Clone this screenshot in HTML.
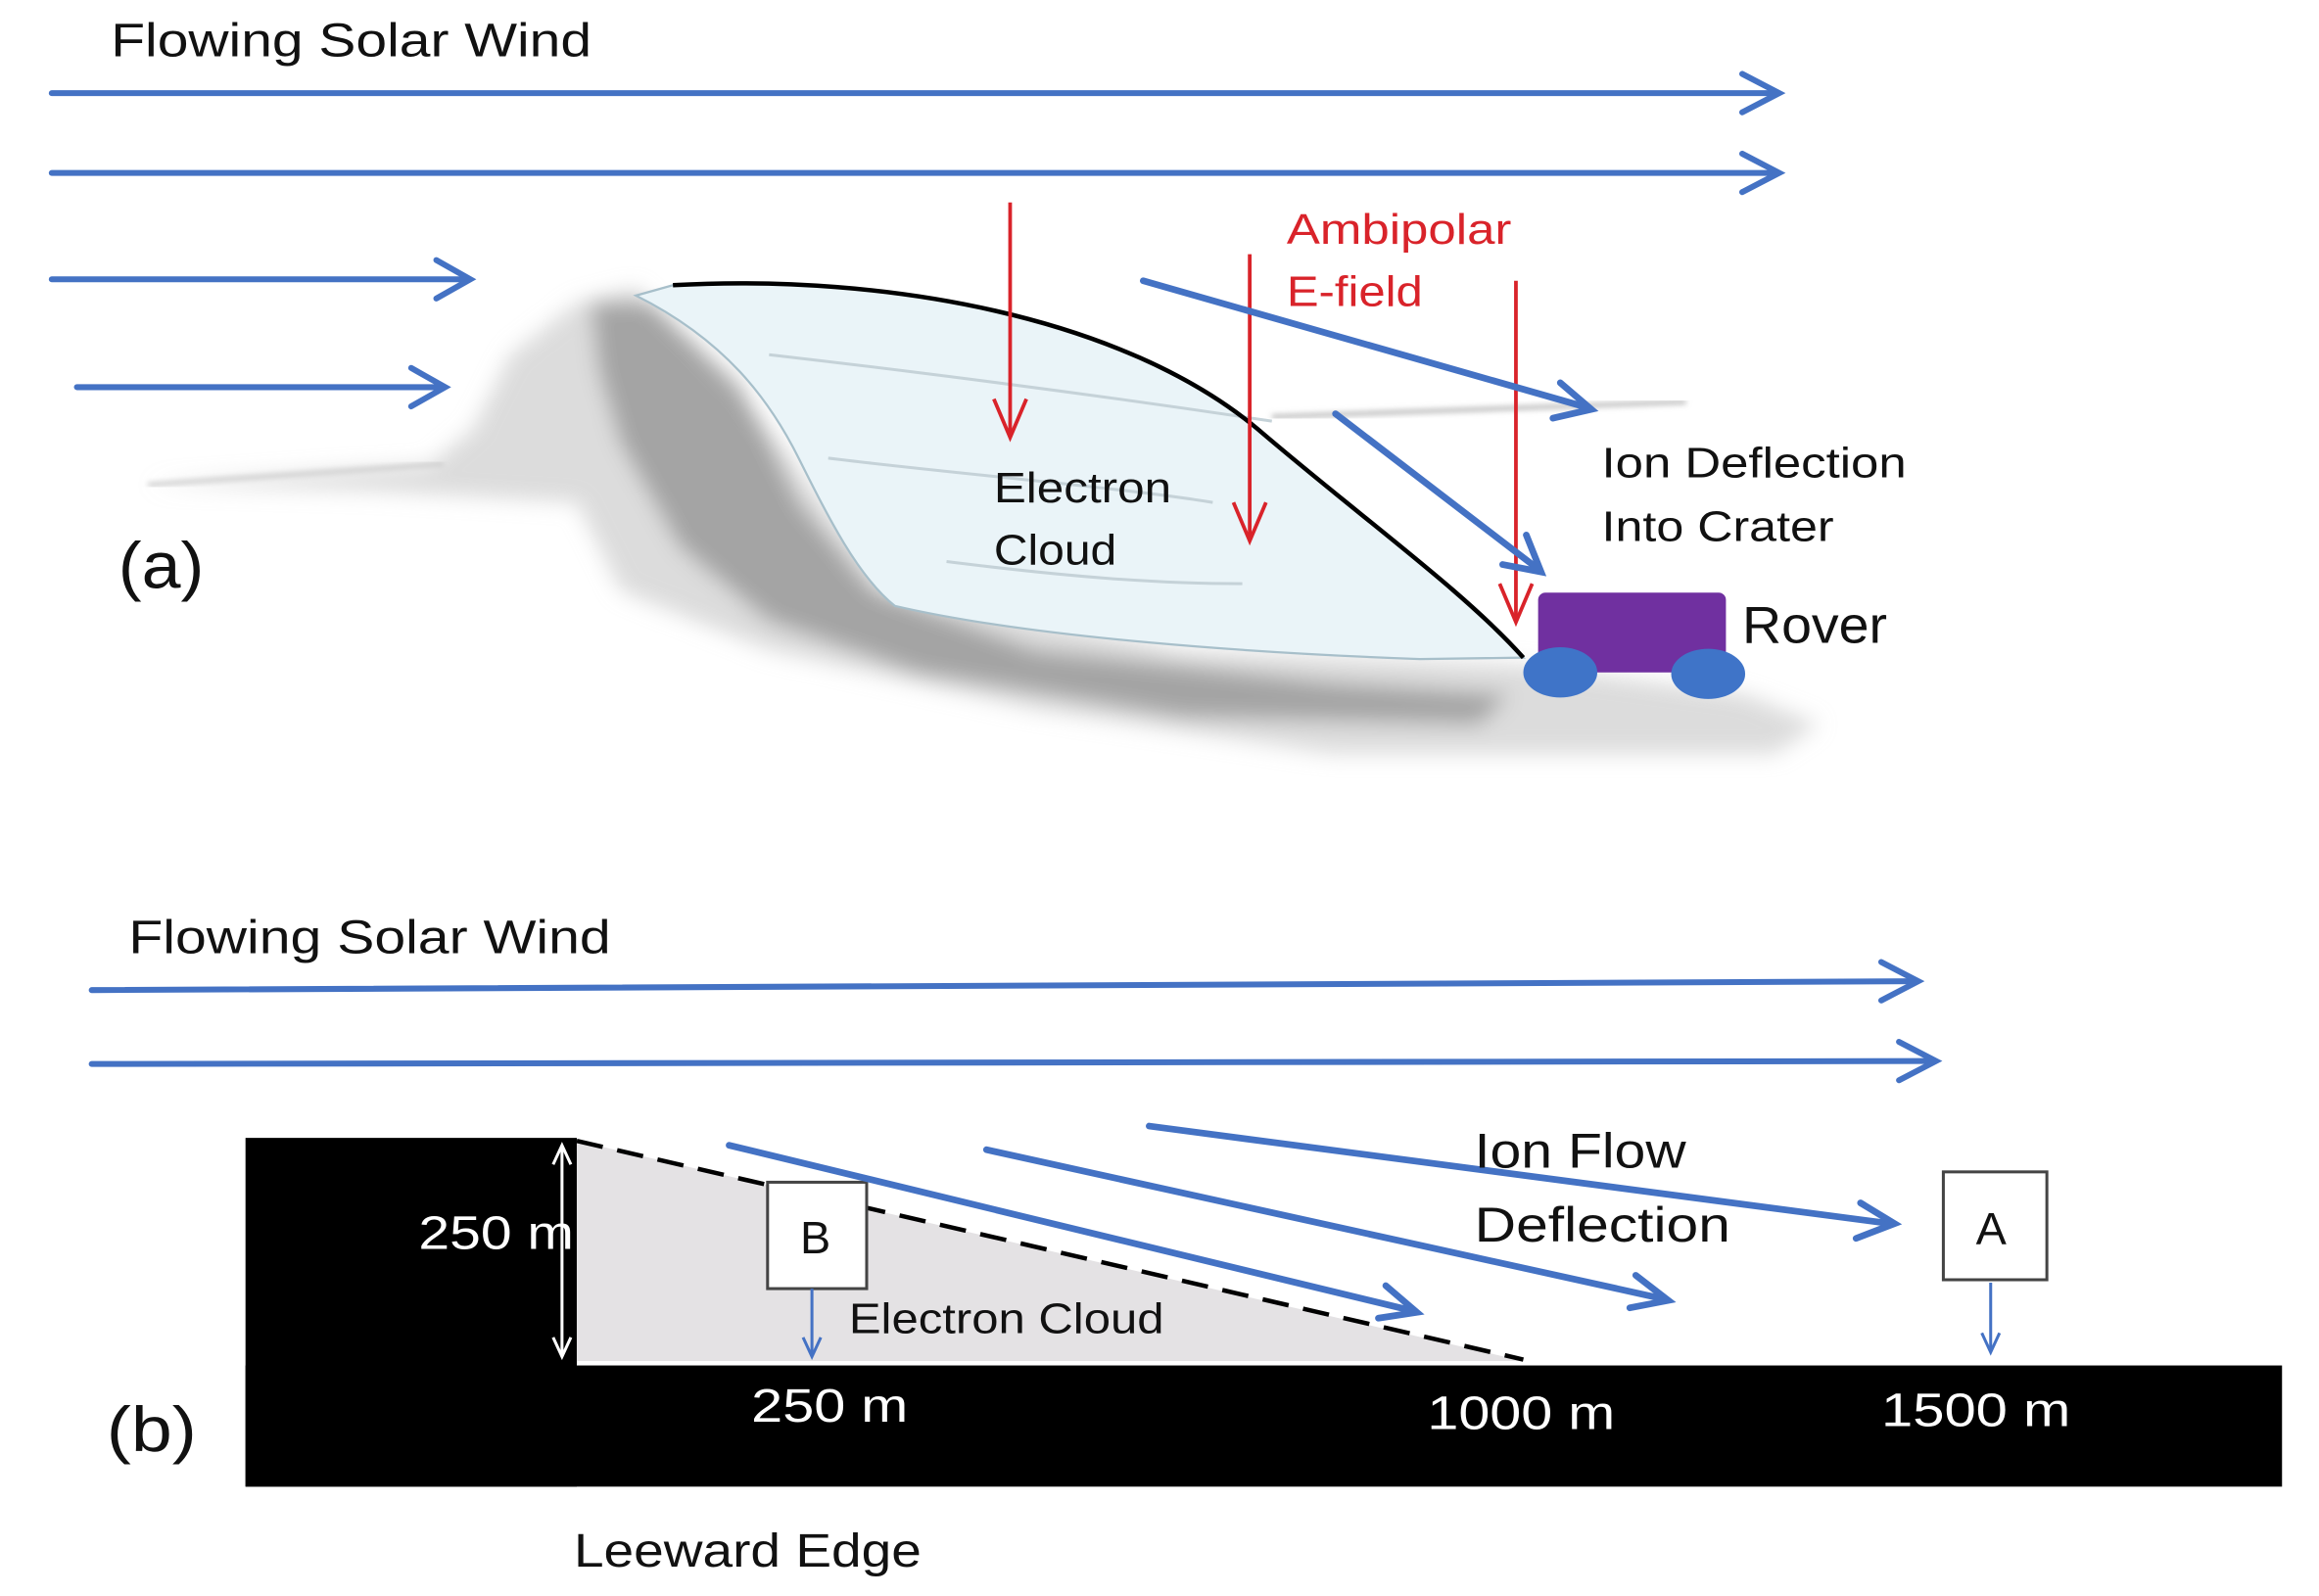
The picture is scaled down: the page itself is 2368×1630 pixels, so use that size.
<!DOCTYPE html>
<html><head><meta charset="utf-8"><style>
html,body{margin:0;padding:0;background:#fff;width:2368px;height:1630px;overflow:hidden}
svg{display:block}
text{font-family:"Liberation Sans",sans-serif}
</style></head><body>
<svg width="2368" height="1630" viewBox="0 0 1568 1080" preserveAspectRatio="none" xmlns="http://www.w3.org/2000/svg">
<defs>
<filter id="bl" x="-10%" y="-10%" width="120%" height="120%"><feGaussianBlur stdDeviation="7"/></filter>
<filter id="bl2"><feGaussianBlur stdDeviation="2"/></filter>
</defs>
<rect width="1568" height="1080" fill="#fff"/>

<text x="75" y="38" font-size="32" fill="#111" textLength="325" lengthAdjust="spacingAndGlyphs">Flowing Solar Wind</text>
<g stroke="#4472c4" stroke-width="4" fill="none" stroke-linecap="round">
<line x1="35" y1="63" x2="1200" y2="63"/><polyline points="1178,50 1203,63 1178,76"/>
<line x1="35" y1="117" x2="1200" y2="117"/><polyline points="1178,104 1203,117 1178,130"/>
<line x1="35" y1="189" x2="315" y2="189"/><polyline points="295,176 318,189 295,202"/>
<line x1="52" y1="262" x2="298" y2="262"/><polyline points="278,249 301,262 278,275"/>
</g>

<g filter="url(#bl)">
<path d="M100,328 L290,315 L320,290 L345,240 L390,205 L430,195 L520,290 L600,400 L800,440 L1030,450 L1180,470 L1230,490 L1200,510 L900,510 L700,480 L520,440 L420,400 L390,340 L250,332 Z" fill="#c4c4c4" opacity="0.6"/>
<path d="M400,205 L440,205 L500,260 L540,340 L590,400 L700,440 L900,462 L1020,470 L1000,490 L800,485 L620,455 L520,420 L460,370 L420,300 L405,250 Z" fill="#777" opacity="0.55"/>
</g>
<path d="M100,328 L300,314" stroke="#ccc" stroke-width="3" filter="url(#bl2)"/>
<path d="M860,282 L1140,272" stroke="#bbb" stroke-width="3" filter="url(#bl2)"/>

<path d="M455,193 C600,185 760,215 850,290 C920,350 990,400 1030,445 L960,446 C850,442 700,432 605,410 C580,390 560,350 540,310 C520,270 490,230 430,200 Z" fill="#eaf4f8" stroke="#a7bfca" stroke-width="1.5"/>
<path d="M520,240 C650,255 760,270 860,285 M560,310 C640,320 760,330 820,340 M640,380 C720,390 780,395 840,395" stroke="#c5d2d8" stroke-width="2" fill="none"/>
<path d="M455,193 C600,185 760,215 850,290 C920,350 990,400 1030,445" fill="none" stroke="#000" stroke-width="3"/>

<g stroke="#d9232a" stroke-width="2.5" fill="none">
<line x1="683" y1="137" x2="683" y2="295"/><polyline points="672,270 683,296 694,270"/>
<line x1="845" y1="172" x2="845" y2="365"/><polyline points="834,340 845,366 856,340"/>
<line x1="1025" y1="190" x2="1025" y2="420"/><polyline points="1014,395 1025,421 1036,395"/>
</g>
<text x="870" y="165" font-size="29" fill="#d9232a" textLength="152" lengthAdjust="spacingAndGlyphs">Ambipolar</text>
<text x="870" y="207" font-size="29" fill="#d9232a" textLength="92" lengthAdjust="spacingAndGlyphs">E-field</text>

<g stroke="#4472c4" stroke-width="4.5" fill="none" stroke-linecap="round">
<line x1="773" y1="190" x2="1074" y2="276"/><polyline points="1055,259 1076,277 1050,283"/>
<line x1="903" y1="280" x2="1040" y2="385"/><polyline points="1032,362 1042,387 1016,382"/>
</g>
<text x="1083" y="323" font-size="29" fill="#111" textLength="206" lengthAdjust="spacingAndGlyphs">Ion Deflection</text>
<text x="1083" y="366" font-size="29" fill="#111" textLength="157" lengthAdjust="spacingAndGlyphs">Into Crater</text>
<text x="672" y="340" font-size="29" fill="#111" textLength="120" lengthAdjust="spacingAndGlyphs">Electron</text>
<text x="672" y="382" font-size="29" fill="#111" textLength="83" lengthAdjust="spacingAndGlyphs">Cloud</text>
<text x="80" y="398" font-size="44" fill="#111" textLength="58" lengthAdjust="spacingAndGlyphs">(a)</text>

<rect x="1040" y="401" width="127" height="54" rx="5" fill="#7030a0"/>
<ellipse cx="1055" cy="455" rx="25" ry="17" fill="#3f74c8"/>
<ellipse cx="1155" cy="456" rx="25" ry="17" fill="#3f74c8"/>
<text x="1178" y="435" font-size="35" fill="#111" textLength="98" lengthAdjust="spacingAndGlyphs">Rover</text>

<text x="87" y="645" font-size="32" fill="#111" textLength="326" lengthAdjust="spacingAndGlyphs">Flowing Solar Wind</text>
<g stroke="#4472c4" stroke-width="4" fill="none" stroke-linecap="round">
<line x1="62" y1="670" x2="1294" y2="664"/><polyline points="1272,651 1297,664 1272,677"/>
<line x1="62" y1="720" x2="1306" y2="718"/><polyline points="1284,705 1309,718 1284,731"/>
</g>

<rect x="166" y="770" width="224" height="236" fill="#000"/>
<rect x="166" y="924" width="1377" height="82" fill="#000"/>
<polygon points="390,772 390,921 1030,921" fill="#e4e2e4"/>
<line x1="390" y1="772" x2="1030" y2="920" stroke="#000" stroke-width="3" stroke-dasharray="18,10"/>
<g stroke="#fff" stroke-width="2" fill="none">
<line x1="380" y1="775" x2="380" y2="918"/>
<polyline points="374,788 380,775 386,788"/>
<polyline points="374,905 380,918 386,905"/>
</g>
<text x="283" y="845" font-size="32" fill="#fff" textLength="105" lengthAdjust="spacingAndGlyphs">250 m</text>

<rect x="519" y="800" width="67" height="72" fill="#fff" stroke="#444" stroke-width="2"/>
<text x="541" y="848" font-size="31" fill="#111">B</text>
<g stroke="#4472c4" stroke-width="2" fill="none">
<line x1="549" y1="872" x2="549" y2="917"/><polyline points="543,905 549,918 555,905"/>
<line x1="1346" y1="868" x2="1346" y2="914"/><polyline points="1340,902 1346,915 1352,902"/>
</g>
<text x="574" y="902" font-size="29" fill="#111" textLength="213" lengthAdjust="spacingAndGlyphs">Electron Cloud</text>

<g stroke="#4472c4" stroke-width="4.5" fill="none" stroke-linecap="round">
<line x1="493" y1="775" x2="955" y2="887"/><polyline points="937,870 958,888 932,892"/>
<line x1="667" y1="778" x2="1125" y2="879"/><polyline points="1106,863 1128,880 1102,885"/>
<line x1="777" y1="762" x2="1278" y2="828"/><polyline points="1258,814 1281,828 1255,838"/>
</g>
<text x="997" y="790" font-size="33" fill="#111" textLength="143" lengthAdjust="spacingAndGlyphs">Ion Flow</text>
<text x="997" y="840" font-size="33" fill="#111" textLength="173" lengthAdjust="spacingAndGlyphs">Deflection</text>

<rect x="1314" y="793" width="70" height="73" fill="#fff" stroke="#444" stroke-width="2"/>
<text x="1336" y="842" font-size="31" fill="#111">A</text>

<text x="508" y="962" font-size="32" fill="#fff" textLength="106" lengthAdjust="spacingAndGlyphs">250 m</text>
<text x="965" y="967" font-size="32" fill="#fff" textLength="127" lengthAdjust="spacingAndGlyphs">1000 m</text>
<text x="1272" y="965" font-size="32" fill="#fff" textLength="128" lengthAdjust="spacingAndGlyphs">1500 m</text>
<text x="72" y="982" font-size="43" fill="#111" textLength="61" lengthAdjust="spacingAndGlyphs">(b)</text>
<text x="388" y="1060" font-size="32" fill="#111" textLength="235" lengthAdjust="spacingAndGlyphs">Leeward Edge</text>
</svg>
</body></html>
